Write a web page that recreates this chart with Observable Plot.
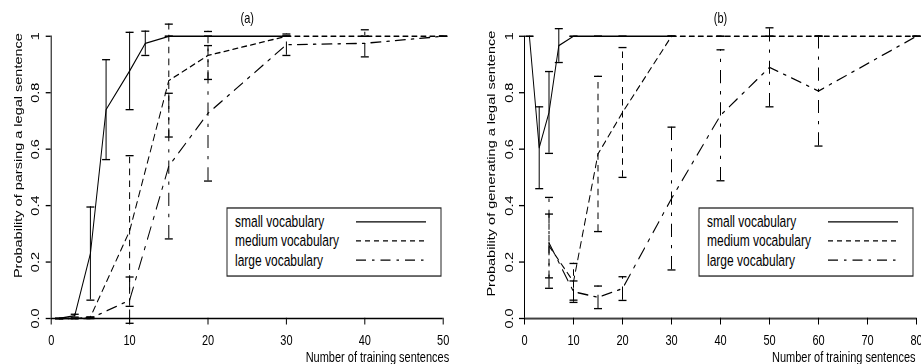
<!DOCTYPE html>
<html><head><meta charset="utf-8">
<script src="https://cdn.jsdelivr.net/npm/d3@7"></script>
<script src="https://cdn.jsdelivr.net/npm/@observablehq/plot@0.6"></script>
<style>
html,body{margin:0;padding:0;background:#fff;overflow:hidden;width:921px;height:364px;}
#wrap{position:relative;width:921px;height:276px;transform:scaleY(1.318841);transform-origin:0 0;}
#pa{position:absolute;left:0;top:0;}
#pb{position:absolute;left:460px;top:0;}
</style></head><body>
<div id="wrap"><div id="pa"></div><div id="pb"></div></div>
<script>
// ---- data ----
const seriesNames = ["small vocabulary", "medium vocabulary", "large vocabulary"];
const xTitle = "Number of training sentences";

// panel (a): parsing
const parseSmallX = [1, 3, 5, 7, 10, 12, 15, 20, 30];
const parseSmallY = [0, 0.01, 0.23, 0.74, 0.877, 0.975, 1, 1, 1];
const parseSmallE = [0, 0.005, 0.165, 0.177, 0.137, 0.043, 0, 0, 0];

const parseMediumX = [1, 3, 5, 10, 15, 20, 30, 40, 50];
const parseMediumY = [0, 0, 0.005, 0.31, 0.843, 0.932, 1, 1, 1];
const parseMediumE = [0, 0, 0, 0.267, 0.2, 0.085, 0, 0, 0];

const parseLargeX = [1, 3, 5, 10, 15, 20, 30, 40, 50];
const parseLargeY = [0, 0, 0, 0.065, 0.54, 0.727, 0.97, 0.975, 1];
const parseLargeE = [0, 0, 0, 0.082, 0.258, 0.24, 0.038, 0.048, 0];

// panel (b): generating
const genSmallX = [1, 3, 5, 7, 10, 15, 20, 30];
const genSmallY = [1, 0.605, 0.73, 0.967, 1, 1, 1, 1];
const genSmallE = [0, 0.145, 0.145, 0.06, 0, 0, 0, 0];

const genMediumX = [5, 10, 15, 20, 30, 40, 50, 60, 80];
const genMediumY = [0.257, 0.13, 0.583, 0.73, 1, 1, 1, 1, 1];
const genMediumE = [0.113, 0.065, 0.275, 0.23, 0, 0, 0, 0, 0];

const genLargeX = [5, 10, 15, 20, 30, 40, 50, 60, 80];
const genLargeY = [0.268, 0.095, 0.075, 0.106, 0.425, 0.72, 0.89, 0.806, 1];
const genLargeE = [0.161, 0.038, 0.04, 0.042, 0.253, 0.232, 0.14, 0.195, 0];

const ticksA = [0, 10, 20, 30, 40, 50];
const ticksB = [0, 10, 20, 30, 40, 50, 60, 70, 80];
const yTicks = [0, 0.2, 0.4, 0.6, 0.8, 1];

// ---- styles ----
const dashes = [null, "5,4", "10,6,2.5,6"];
const FONT = "'Liberation Sans', Arial, Helvetica, sans-serif";
const cap = {draw(ctx, size) { const r = Math.sqrt(size / Math.PI); ctx.moveTo(-r, 0); ctx.lineTo(r, 0); }};

function rows(xs, ys, es) {
  return xs.map((x, i) => ({x, y: ys[i], lo: ys[i] - es[i], hi: ys[i] + es[i], e: es[i]}));
}

function panel(series, xmax, xticks, ylabel, title, width, ml, mr, ydy, xdx) {
  const marks = [Plot.ruleY([0], {strokeWidth: 1}), Plot.ruleX([0], {strokeWidth: 1})];
  series.forEach((data, k) => {
    const dash = dashes[k];
    marks.push(
      Plot.line(data, {x: "x", y: "y", stroke: "black", strokeWidth: 1, strokeDasharray: dash}),
      Plot.ruleX(data.filter(d => d.e > 0), {x: "x", y1: "lo", y2: "hi", stroke: "black", strokeWidth: 1, strokeDasharray: dash}),
      Plot.dot(data, {x: "x", y: "hi", symbol: cap, r: 4, stroke: "black", fill: "none", strokeWidth: 1}),
      Plot.dot(data, {x: "x", y: "lo", symbol: cap, r: 4, stroke: "black", fill: "none", strokeWidth: 1})
    );
  });
  marks.push(
    Plot.text([title], {frameAnchor: "top", dy: -13.7, lineAnchor: "middle", fill: "black"}),
    Plot.text([ylabel], {frameAnchor: "left", rotate: -90, dx: -33, dy: ydy, lineAnchor: "middle", textAnchor: "middle", fill: "black"}),
    Plot.text([xTitle], {frameAnchor: "bottom-right", dx: xdx, dy: 29.2, textAnchor: "end", lineAnchor: "middle", fill: "black"})
  );
  return Plot.plot({
    width, height: 276,
    marginLeft: ml, marginRight: mr, marginTop: 27, marginBottom: 35,
    style: {fontFamily: FONT, fontSize: "11px", color: "black", background: "none", overflow: "visible"},
    x: {domain: [0, xmax], ticks: xticks, tickSize: 5, tickPadding: 7.3, label: null},
    y: {domain: [0, 1], ticks: yTicks, tickSize: 5, tickPadding: 7, tickRotate: -90,
        tickFormat: d => d === 1 ? "1" : d.toFixed(1), label: null},
    marks
  });
}

function addLegend(svg, boxRight) {
  const w = 214, h = 51.6, top = 157.7, left = boxRight - w;
  const g = d3.select(svg).append("g").attr("font-family", FONT).attr("font-size", 12)
    .attr("text-anchor", "start");
  g.append("rect").attr("x", left).attr("y", top).attr("width", w).attr("height", h)
    .attr("fill", "white").attr("stroke", "#222").attr("stroke-width", 1);
  const offs = [10.6, 25, 39.5];
  seriesNames.forEach((name, i) => {
    g.append("text").attr("x", left + 8).attr("y", top + offs[i]).attr("dy", "0.35em")
      .attr("text-anchor", "start").attr("fill", "black").text(name);
    const ln = g.append("line").attr("x1", left + 129).attr("x2", left + 199)
      .attr("y1", top + offs[i]).attr("y2", top + offs[i]).attr("stroke", "black").attr("stroke-width", 1);
    if (dashes[i]) ln.attr("stroke-dasharray", dashes[i]);
  });
}

const svgA = panel(
  [rows(parseSmallX, parseSmallY, parseSmallE), rows(parseMediumX, parseMediumY, parseMediumE), rows(parseLargeX, parseLargeY, parseLargeE)],
  50, ticksA, "Probability of parsing a legal sentence", "(a)", 460, 50.7, 17.3, -16.5, 6);
addLegend(svgA, 441);
document.getElementById("pa").appendChild(svgA);

const svgB = panel(
  [rows(genSmallX, genSmallY, genSmallE), rows(genMediumX, genMediumY, genMediumE), rows(genLargeX, genLargeY, genLargeE)],
  80, ticksB, "Probability of generating a legal sentence", "(b)", 461, 64, 5, -10.4, -1);
addLegend(svgB, 453);
document.getElementById("pb").appendChild(svgB);
</script>
</body></html>
